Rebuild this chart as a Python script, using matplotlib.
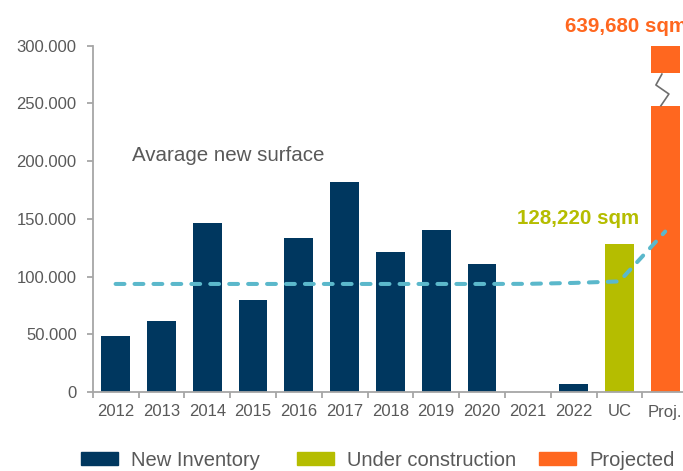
import matplotlib
matplotlib.use("Agg")
import matplotlib.pyplot as plt
from matplotlib.ticker import FuncFormatter, FixedLocator
from matplotlib.patches import Patch

# ---------------- data ----------------
categories = ["2012", "2013", "2014", "2015", "2016", "2017", "2018",
              "2019", "2020", "2021", "2022", "UC", "Proj."]
new_inventory = [48500, 61500, 146000, 80000, 133500, 182000, 121500,
                 140500, 111000, 0, 6500]
under_construction = 128220
projected = 639680
avg_line = [93600, 93600, 93600, 93600, 93600, 93600, 93600,
            93600, 93600, 93700, 94500, 95800, 139000]
y_ticks = [0, 50000, 100000, 150000, 200000, 250000, 300000]
legend_labels = ["New Inventory", "Under construction", "Projected"]

# ---------------- style ----------------
NAVY = "#00375F"
OLIVE = "#B5BD00"
ORANGE = "#FF671F"
TEAL = "#5BB8CB"
GRAY_TXT = "#595959"
AXIS = "#A6A6A6"

plt.rcParams["font.family"] = ["Liberation Sans", "DejaVu Sans"]

fig = plt.figure(figsize=(6.83, 4.71), dpi=100)
ax = fig.add_axes([92.7 / 683, 79 / 471, 595.4 / 683, 346.3 / 471])

x = list(range(len(categories)))
bw = 0.63
ymax = 300000
break_low, break_high = 248000, 276600

ax.bar(x[:len(new_inventory)], new_inventory, width=bw, color=NAVY, zorder=2)
ax.bar(x[11], under_construction, width=bw, color=OLIVE, zorder=2)
# broken projected bar
ax.bar(x[12], min(projected, break_low), width=bw, color=ORANGE, zorder=2)
ax.bar(x[12], min(projected, ymax) - break_high, bottom=break_high,
       width=bw, color=ORANGE, zorder=2, clip_on=False)
# zigzag break marker
px = x[12]
ax.plot([px - 0.072, px - 0.203, px + 0.081, px - 0.094],
        [break_high - 1200, 265960, 258160, break_low],
        color="#6E6E6E", lw=1.2, zorder=3, clip_on=False)

# average line
ln, = ax.plot(x, avg_line, color=TEAL, lw=2.9, zorder=4,
              dash_capstyle="round", solid_capstyle="round")
ln.set_dashes((2.2, 2.5))

# axes styling
ax.set_xlim(-0.5, len(categories) - 0.5)
ax.set_ylim(0, ymax)
for s in ("top", "right"):
    ax.spines[s].set_visible(False)
for s in ("left", "bottom"):
    ax.spines[s].set_color(AXIS)
    ax.spines[s].set_linewidth(1.3)

ax.set_yticks(y_ticks)
ax.yaxis.set_major_formatter(FuncFormatter(lambda v, p: f"{int(v):,}".replace(",", ".")))
ax.tick_params(axis="y", colors=AXIS, length=4.5, width=1.3, pad=7,
               labelcolor=GRAY_TXT, labelsize=12)

ax.set_xticks(x)
ax.set_xticklabels(categories, family=["Liberation Sans Narrow", "Liberation Sans"],
                   fontsize=12, color=GRAY_TXT)
ax.xaxis.set_minor_locator(FixedLocator([i - 0.5 for i in range(len(categories) + 1)]))
ax.tick_params(axis="x", which="major", length=0, pad=9)
ax.tick_params(axis="x", which="minor", length=4, width=1.3, color=AXIS)

# annotations
ax.text(0.35, 205300, "Avarage new surface", fontsize=14.8, color=GRAY_TXT,
        ha="left", va="center")
ax.text(8.76, 149900, f"{under_construction:,} sqm", fontsize=14.8, color=OLIVE,
        fontweight="bold", ha="left", va="center")
ax.text(9.81, 316200, f"{projected:,} sqm", fontsize=14.8, color=ORANGE,
        fontweight="bold", ha="left", va="center", clip_on=False)

# legend (one entry per legend so each lands where the reference has it)
legend_colors = [NAVY, OLIVE, ORANGE]
legend_x = [81, 296.7, 539]
for lbl, col, lx in zip(legend_labels, legend_colors, legend_x):
    leg = fig.legend(handles=[Patch(color=col, label=lbl)], loc="center left",
                     bbox_to_anchor=(lx / 683, 11 / 471), frameon=False,
                     fontsize=14.5, handlelength=1.84, handleheight=0.6,
                     handletextpad=0.66, borderpad=0, borderaxespad=0)
    for t in leg.get_texts():
        t.set_color(GRAY_TXT)

fig.savefig("out.png", dpi=100)
